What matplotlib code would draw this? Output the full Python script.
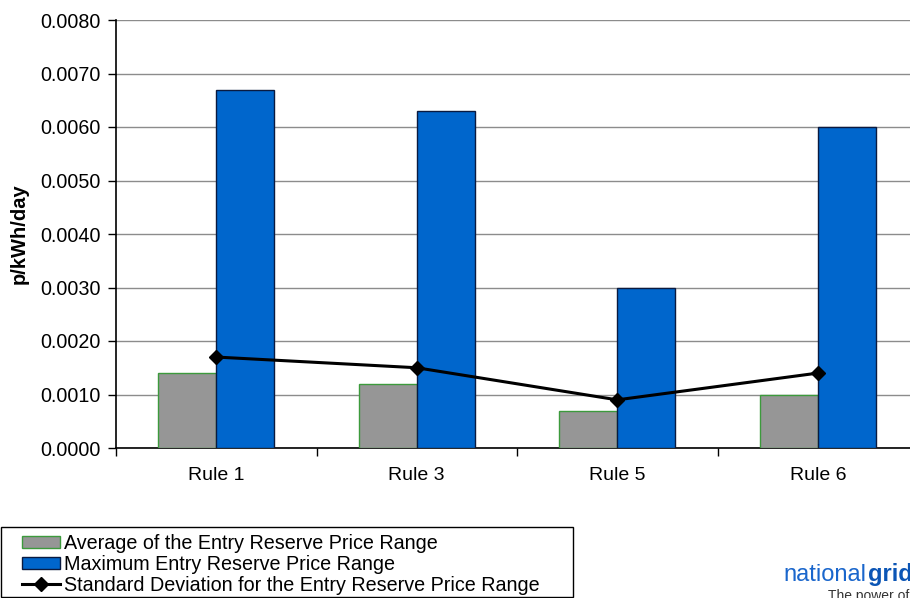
import matplotlib
matplotlib.use('Agg')
import matplotlib.pyplot as plt
from matplotlib.patches import Rectangle
import numpy as np

plt.rcParams['font.family'] = ['Liberation Sans', 'DejaVu Sans']

rules = ['Rule 1', 'Rule 3', 'Rule 5', 'Rule 6']
avgRange = [0.0014, 0.0012, 0.0007, 0.0010]
maxRange = [0.0067, 0.0063, 0.0030, 0.0060]
stdRange = [0.0017, 0.0015, 0.0009, 0.0014]
yTicks = [0.0, 0.001, 0.002, 0.003, 0.004, 0.005, 0.006, 0.007, 0.008]

fig = plt.figure(figsize=(9.1, 5.98), dpi=100)
ax = fig.add_axes([116/910, 150/598, 802/910, 428/598])

x = np.arange(len(rules))
w = 0.29
b1 = ax.bar(x - w/2, avgRange, width=w, color='#969696', edgecolor='#3c9a3c', linewidth=1,
            label='Average of the Entry Reserve Price Range', zorder=3)
b2 = ax.bar(x + w/2, maxRange, width=w, color='#0066cc', edgecolor='#0a1a40', linewidth=1,
            label='Maximum Entry Reserve Price Range', zorder=3)
l1, = ax.plot(x, stdRange, color='black', linewidth=2.2, marker='D', markersize=7,
              label='Standard Deviation for the Entry Reserve Price Range', zorder=4)

ax.set_xlim(-0.5, 3.5)
ax.set_ylim(0, 0.008)
ax.set_yticks(yTicks)
ax.set_yticklabels(['{:.4f}'.format(v) for v in yTicks], fontsize=14.2)
ax.set_xticks(x)
ax.set_xticklabels(rules, fontsize=14)
ax.set_xticks(np.arange(-0.5, 4.0, 1.0), minor=True)
ax.tick_params(axis='x', which='major', length=0, pad=14)
ax.tick_params(axis='x', which='minor', length=6, width=1, direction='out')
ax.tick_params(axis='y', length=6, width=1, direction='out', pad=5)
ax.grid(axis='y', color='#8c8c8c', linewidth=1, zorder=0)
ax.set_axisbelow(True)
for s in ['top', 'right']:
  ax.spines[s].set_visible(False)
ax.spines['left'].set_linewidth(1.2)
ax.spines['bottom'].set_linewidth(1.2)
ax.set_ylabel('p/kWh/day', fontsize=14.5, fontweight='bold', labelpad=8)

# legend box drawn by hand, entries placed inside it
fig.patches.append(Rectangle((0.5/910, 1/598), 572/910, 70/598, transform=fig.transFigure,
                             facecolor='white', edgecolor='black', linewidth=1, zorder=1))
leg = fig.legend(handles=[b1, b2, l1], loc='lower left',
                 bbox_to_anchor=(22/910, 3/598), frameon=False, fontsize=14.2,
                 borderpad=0, labelspacing=0.1, handlelength=1.95, handletextpad=0.2,
                 handleheight=0.6, borderaxespad=0)
leg.set_zorder(2)

fig.text(783/910, 17/598, 'national', color='#1a66cc', fontsize=17, ha='left', va='baseline')
fig.text(868/910, 17/598, 'grid', color='#0b55b5', fontsize=17, fontweight='bold',
         ha='left', va='baseline')
fig.text(828/910, -2/598, 'The power of action', color='#333333', fontsize=10,
         ha='left', va='baseline')

plt.savefig('out.png', dpi=100)
